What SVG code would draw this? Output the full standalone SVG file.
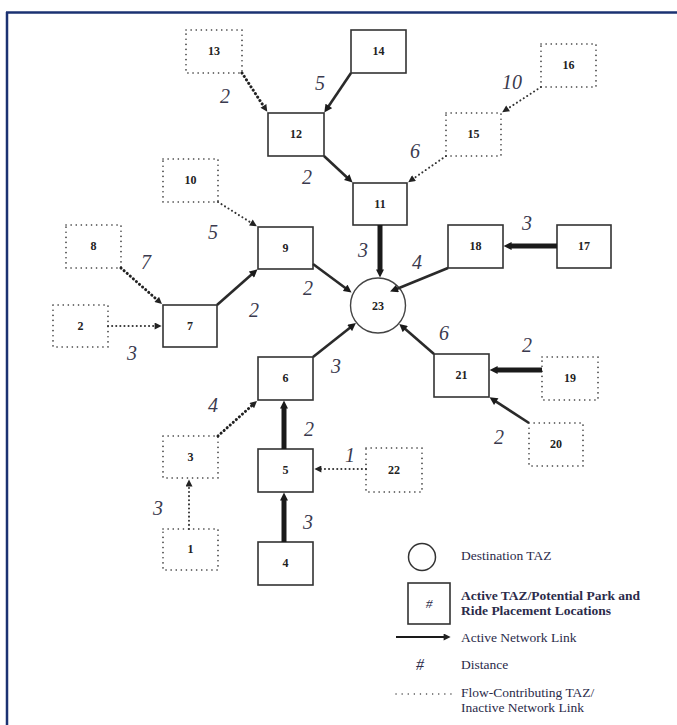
<svg xmlns="http://www.w3.org/2000/svg" width="677" height="725" viewBox="0 0 677 725">
<style>
.bx{fill:#fff;stroke:#333;stroke-width:1.6}
.dbx{fill:#fff;stroke:#333;stroke-width:1.6;stroke-dasharray:0.1 5;stroke-linecap:round}
.nl{font-family:"Liberation Serif",serif;font-weight:bold;font-size:12px;fill:#222;text-anchor:middle}
.dl{font-family:"Liberation Serif",serif;font-style:italic;font-size:20px;fill:#3a3a4e;text-anchor:middle}
.thick{stroke:#1a1a1a;stroke-width:5;fill:none}
.med{stroke:#2a2a2a;stroke-width:2.6;fill:none}
.dot{stroke:#333;stroke-width:2;stroke-dasharray:0.1 4;stroke-linecap:round;fill:none}
.doth{stroke:#222;stroke-width:3;stroke-dasharray:0.1 4;stroke-linecap:round;fill:none}
.lg{font-family:"Liberation Serif",serif;font-size:13.5px;fill:#2b2b4a}
.lgb{font-family:"Liberation Serif",serif;font-size:13.5px;font-weight:bold;fill:#2b2b4a}
</style>
<defs>
<marker id="arr" viewBox="0 0 10 10" refX="2" refY="5" markerWidth="9" markerHeight="8" markerUnits="userSpaceOnUse" orient="auto"><path d="M0,0 L10,5 L0,10 z" fill="#1a1a1a"/></marker>
<marker id="arrS" viewBox="0 0 10 10" refX="2" refY="5" markerWidth="8" markerHeight="7" markerUnits="userSpaceOnUse" orient="auto"><path d="M0,0 L10,5 L0,10 z" fill="#222"/></marker>
</defs>
<rect width="677" height="725" fill="#fff"/>
<g id="frame"><line x1="6" y1="12.5" x2="677" y2="12.5" stroke="#1b3272" stroke-width="2.5"/><line x1="7" y1="12" x2="7" y2="725" stroke="#1b3272" stroke-width="2.5"/></g>
<g id="n13"><rect class="dbx" x="186" y="30" width="56" height="43"/><text class="nl" x="214" y="55">13</text></g>
<g id="n14"><rect class="bx" x="351" y="30" width="55" height="43"/><text class="nl" x="378.5" y="55">14</text></g>
<g id="n12"><rect class="bx" x="268" y="113" width="56" height="43"/><text class="nl" x="296" y="138">12</text></g>
<g id="n16"><rect class="dbx" x="541" y="44" width="55" height="43"/><text class="nl" x="568.5" y="69">16</text></g>
<g id="n15"><rect class="dbx" x="446" y="113" width="55" height="43"/><text class="nl" x="473.5" y="138">15</text></g>
<g id="n11"><rect class="bx" x="353" y="183" width="54" height="42"/><text class="nl" x="380" y="208">11</text></g>
<g id="n10"><rect class="dbx" x="163" y="159" width="55" height="43"/><text class="nl" x="190.5" y="184">10</text></g>
<g id="n8"><rect class="dbx" x="66" y="225" width="55" height="43"/><text class="nl" x="93.5" y="250">8</text></g>
<g id="n9"><rect class="bx" x="258" y="227" width="55" height="42"/><text class="nl" x="285.5" y="252">9</text></g>
<g id="n18"><rect class="bx" x="448" y="225" width="55" height="43"/><text class="nl" x="475.5" y="250">18</text></g>
<g id="n17"><rect class="bx" x="557" y="225" width="54" height="43"/><text class="nl" x="584" y="250">17</text></g>
<g id="n2"><rect class="dbx" x="53" y="305" width="55" height="42"/><text class="nl" x="80.5" y="330">2</text></g>
<g id="n7"><rect class="bx" x="163" y="305" width="54" height="42"/><text class="nl" x="190" y="330">7</text></g>
<g id="n23"><circle cx="378" cy="305.5" r="27.5" fill="#fff" stroke="#444" stroke-width="1.4"/><text class="nl" x="378" y="309.5">23</text></g>
<g id="n6"><rect class="bx" x="258" y="357" width="55" height="43"/><text class="nl" x="285.5" y="382">6</text></g>
<g id="n21"><rect class="bx" x="434" y="354" width="55" height="43"/><text class="nl" x="461.5" y="379">21</text></g>
<g id="n19"><rect class="dbx" x="542" y="357" width="56" height="43"/><text class="nl" x="570" y="382">19</text></g>
<g id="n3"><rect class="dbx" x="163" y="436" width="55" height="42"/><text class="nl" x="190.5" y="461">3</text></g>
<g id="n5"><rect class="bx" x="258" y="449" width="55" height="43"/><text class="nl" x="285.5" y="474">5</text></g>
<g id="n22"><rect class="dbx" x="366" y="448" width="56" height="44"/><text class="nl" x="394" y="474">22</text></g>
<g id="n20"><rect class="dbx" x="529" y="423" width="54" height="43"/><text class="nl" x="556" y="448">20</text></g>
<g id="n1"><rect class="dbx" x="163" y="529" width="55" height="41"/><text class="nl" x="190.5" y="553">1</text></g>
<g id="n4"><rect class="bx" x="258" y="542" width="55" height="43"/><text class="nl" x="285.5" y="567">4</text></g>
<g id="connectors">
<line class="doth" x1="242" y1="73" x2="264.2" y2="107.1" marker-end="url(#arrS)"/>
<line class="med" x1="351" y1="73" x2="327.9" y2="107.2" marker-end="url(#arr)"/>
<line class="med" x1="324" y1="156" x2="347.9" y2="178.2" marker-end="url(#arr)"/>
<line class="dot" x1="541" y1="87" x2="506.9" y2="109.2" marker-end="url(#arrS)"/>
<line class="dot" x1="446" y1="156" x2="412.8" y2="179" marker-end="url(#arrS)"/>
<line class="thick" x1="380" y1="225" x2="380" y2="271" marker-end="url(#arr)"/>
<line class="dot" x1="218" y1="202" x2="252.1" y2="223.3" marker-end="url(#arrS)"/>
<line class="doth" x1="121" y1="268" x2="157.8" y2="300.4" marker-end="url(#arrS)"/>
<line class="dot" x1="108" y1="326" x2="156" y2="326" marker-end="url(#arrS)"/>
<line class="med" x1="217" y1="305" x2="252.7" y2="273.6" marker-end="url(#arr)"/>
<line class="med" x1="313" y1="264" x2="346.4" y2="288.8" marker-end="url(#arr)"/>
<line class="med" x1="448" y1="268" x2="396" y2="289.2" marker-end="url(#arr)"/>
<line class="thick" x1="557" y1="246" x2="510" y2="246" marker-end="url(#arr)"/>
<line class="med" x1="313" y1="357" x2="350.9" y2="327" marker-end="url(#arr)"/>
<line class="med" x1="434" y1="354" x2="404.1" y2="328.1" marker-end="url(#arr)"/>
<line class="thick" x1="542" y1="370" x2="496" y2="370" marker-end="url(#arr)"/>
<line class="med" x1="529" y1="423" x2="494.9" y2="400.8" marker-end="url(#arr)"/>
<line class="thick" x1="284" y1="449" x2="284" y2="407" marker-end="url(#arr)"/>
<line class="thick" x1="284" y1="542" x2="284" y2="499" marker-end="url(#arr)"/>
<line class="dot" x1="366" y1="469" x2="320" y2="469" marker-end="url(#arrS)"/>
<line class="doth" x1="218" y1="436" x2="252.8" y2="404.7" marker-end="url(#arrS)"/>
<line class="dot" x1="189" y1="529" x2="189" y2="485" marker-end="url(#arrS)"/>
</g>
<g id="distances">
<text class="dl" x="225" y="103">2</text>
<text class="dl" x="320" y="90">5</text>
<text class="dl" x="307" y="184">2</text>
<text class="dl" x="415" y="158">6</text>
<text class="dl" x="512" y="89">10</text>
<text class="dl" x="363" y="257">3</text>
<text class="dl" x="417" y="269">4</text>
<text class="dl" x="527" y="230">3</text>
<text class="dl" x="213" y="239">5</text>
<text class="dl" x="146" y="269">7</text>
<text class="dl" x="308" y="295">2</text>
<text class="dl" x="254" y="317">2</text>
<text class="dl" x="132" y="360">3</text>
<text class="dl" x="444" y="340">6</text>
<text class="dl" x="336" y="373">3</text>
<text class="dl" x="527" y="352">2</text>
<text class="dl" x="499" y="444">2</text>
<text class="dl" x="213" y="412">4</text>
<text class="dl" x="309" y="436">2</text>
<text class="dl" x="350" y="462">1</text>
<text class="dl" x="308" y="529">3</text>
<text class="dl" x="158" y="515">3</text>
</g>
<g id="legend">
<circle cx="422" cy="557" r="13.5" fill="#fff" stroke="#333" stroke-width="1.5"/>
<text class="lg" x="461" y="560">Destination TAZ</text>
<rect class="bx" x="408" y="583" width="42" height="41"/>
<text class="lg" x="429" y="608" text-anchor="middle" font-style="italic">#</text>
<text class="lgb" x="461" y="600">Active TAZ/Potential Park and</text>
<text class="lgb" x="461" y="615">Ride Placement Locations</text>
<line x1="396" y1="637" x2="445" y2="637" stroke="#1a1a1a" stroke-width="2.2" marker-end="url(#arrS)"/>
<text class="lg" x="461" y="642">Active Network Link</text>
<text x="420" y="670" font-family="Liberation Serif,serif" font-style="italic" font-size="16" fill="#2b2b4a" text-anchor="middle">#</text>
<text class="lg" x="461" y="669">Distance</text>
<line x1="396" y1="694" x2="452" y2="694" stroke="#444" stroke-width="1.4" stroke-dasharray="0.1 6" stroke-linecap="round"/>
<text class="lg" x="461" y="697">Flow-Contributing TAZ/</text>
<text class="lg" x="461" y="712">Inactive Network Link</text>
</g>
</svg>
